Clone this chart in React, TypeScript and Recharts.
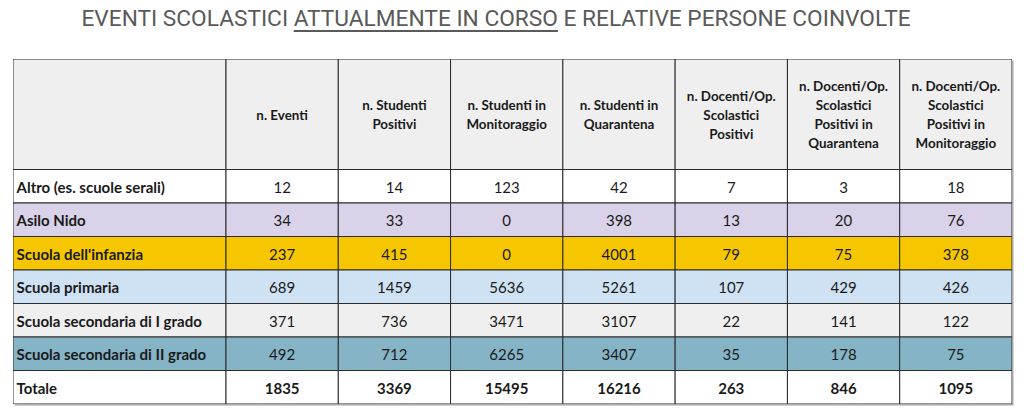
import React from "react";
import { ScatterChart, Scatter, XAxis, YAxis } from "recharts";

const ROW_LABELS = [
  "Altro (es. scuole serali)",
  "Asilo Nido",
  "Scuola dell'infanzia",
  "Scuola primaria",
  "Scuola secondaria di I grado",
  "Scuola secondaria di II grado",
  "Totale",
];

const COLUMN_HEADERS = [
  ["n. Eventi"],
  ["n. Studenti", "Positivi"],
  ["n. Studenti in", "Monitoraggio"],
  ["n. Studenti in", "Quarantena"],
  ["n. Docenti/Op.", "Scolastici", "Positivi"],
  ["n. Docenti/Op.", "Scolastici", "Positivi in", "Quarantena"],
  ["n. Docenti/Op.", "Scolastici", "Positivi in", "Monitoraggio"],
];

const EVENTI = [12, 34, 237, 689, 371, 492, 1835];
const STUDENTI_POSITIVI = [14, 33, 415, 1459, 736, 712, 3369];
const STUDENTI_MONITORAGGIO = [123, 0, 0, 5636, 3471, 6265, 15495];
const STUDENTI_QUARANTENA = [42, 398, 4001, 5261, 3107, 3407, 16216];
const DOCENTI_POSITIVI = [7, 13, 79, 107, 22, 35, 263];
const DOCENTI_QUARANTENA = [3, 20, 75, 429, 141, 178, 846];
const DOCENTI_MONITORAGGIO = [18, 76, 378, 426, 122, 75, 1095];

const COLUMNS = [
  EVENTI, STUDENTI_POSITIVI, STUDENTI_MONITORAGGIO, STUDENTI_QUARANTENA,
  DOCENTI_POSITIVI, DOCENTI_QUARANTENA, DOCENTI_MONITORAGGIO,
];

// layout (table units == px)
const W = 1024;
const H = 416;
const MARGIN = { top: 59, right: 12, bottom: 12, left: 13 };
const LABEL_W = 213;
const COL_W = (W - MARGIN.left - MARGIN.right - LABEL_W) / 7;
const HEAD_H = 110.5;
const ROW_H = 33.5;
const X_MAX = LABEL_W + COL_W * 7;
const Y_MAX = HEAD_H + ROW_H * 7;

const ROW_FILLS = ["#ffffff", "#d9d2e9", "#f6c700", "#cfe2f3", "#efefef", "#86b4c7", "#ffffff"];
const HEAD_FILL = "#efefef";
const FONT = "Lato, 'Noto Sans', sans-serif";

type CellDatum = {
  x: number; y: number; w: number; h: number;
  lines: string[]; fill: string; bold: boolean; left: boolean; head: boolean;
};

const colCenter = (c: number) => (c < 0 ? LABEL_W / 2 : LABEL_W + COL_W * c + COL_W / 2);
const colWidth = (c: number) => (c < 0 ? LABEL_W : COL_W);

const cells: CellDatum[] = [];
[-1, 0, 1, 2, 3, 4, 5, 6].forEach((c) => {
  cells.push({
    x: colCenter(c), y: HEAD_H / 2, w: colWidth(c), h: HEAD_H,
    lines: c < 0 ? [] : COLUMN_HEADERS[c], fill: HEAD_FILL, bold: true, left: false, head: true,
  });
});
ROW_LABELS.forEach((label, r) => {
  const y = HEAD_H + ROW_H * r + ROW_H / 2;
  const total = r === ROW_LABELS.length - 1;
  cells.push({ x: colCenter(-1), y, w: LABEL_W, h: ROW_H, lines: [label], fill: ROW_FILLS[r], bold: true, left: true, head: false });
  COLUMNS.forEach((vals, c) => {
    cells.push({ x: colCenter(c), y, w: COL_W, h: ROW_H, lines: [String(vals[r])], fill: ROW_FILLS[r], bold: total, left: false, head: false });
  });
});

const PX_X = (W - MARGIN.left - MARGIN.right) / X_MAX;
const PX_Y = (H - MARGIN.top - MARGIN.bottom) / Y_MAX;

function TableCell(props: any) {
  const { cx, cy, payload } = props;
  const d: CellDatum = payload;
  const w = d.w * PX_X;
  const h = d.h * PX_Y;
  const fs = d.head ? 13.4 : 15;
  const lh = 18.9;
  return (
    <g>
      <rect x={cx - w / 2} y={cy - h / 2} width={w} height={h} fill={d.fill} stroke="#2b2b2b" strokeWidth={1} />
      {d.lines.map((t, i) => (
        <text key={i}
          x={d.left ? cx - w / 2 + 3.5 : cx}
          y={cy + (i - (d.lines.length - 1) / 2) * lh + 0.5}
          textAnchor={d.left ? "start" : "middle"} dominantBaseline="central"
          style={{ fontFamily: FONT, fontSize: fs, fontWeight: d.bold ? 700 : 400, fill: "#1a1a1a" }}>
          {t}
        </text>
      ))}
    </g>
  );
}

export default function App() {
  return (
    <div style={{ position: "absolute", left: 0, top: 0, width: W, height: H, background: "#fff" }}>
      <div style={{
        position: "absolute", left: 0, top: 6, width: 992, textAlign: "center",
        fontFamily: "Roboto, sans-serif", fontSize: 22.7, lineHeight: "26px", color: "#5a5a5a",
        whiteSpace: "nowrap",
      }}>
        EVENTI SCOLASTICI{" "}
        <span style={{ textDecoration: "underline", textDecorationThickness: 2, textUnderlineOffset: 4 }}>
          ATTUALMENTE IN CORSO
        </span>{" "}
        E RELATIVE PERSONE COINVOLTE
      </div>
      <div style={{
        position: "absolute", left: MARGIN.left, top: MARGIN.top,
        width: W - MARGIN.left - MARGIN.right, height: H - MARGIN.top - MARGIN.bottom,
        boxShadow: "1.5px 1.5px 0 #a8a8a8",
      }} />
      <div style={{ position: "absolute", left: 0, top: 0 }}>
        <ScatterChart width={W} height={H} margin={MARGIN}>
          <XAxis type="number" dataKey="x" domain={[0, X_MAX]} hide allowDataOverflow />
          <YAxis type="number" dataKey="y" domain={[0, Y_MAX]} reversed hide allowDataOverflow />
          <Scatter data={cells} shape={TableCell} isAnimationActive={false} />
        </ScatterChart>
      </div>
    </div>
  );
}
